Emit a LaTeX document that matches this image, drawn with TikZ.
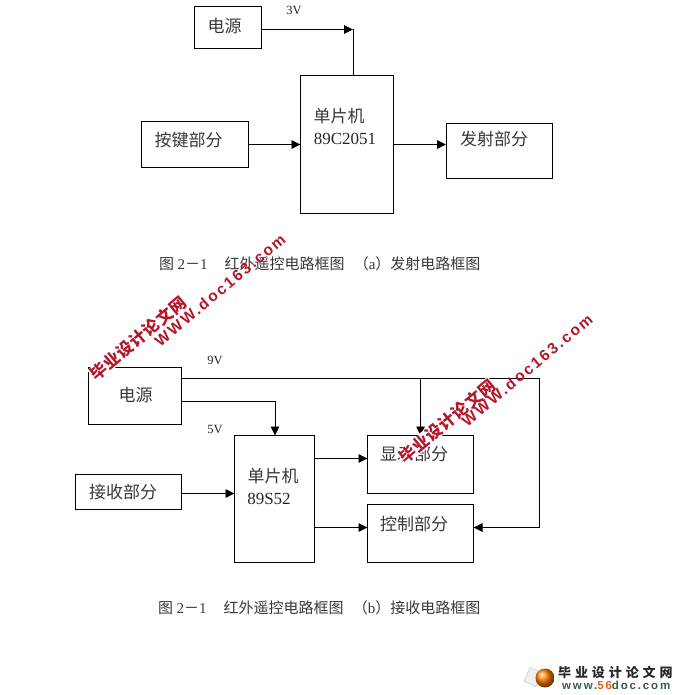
\documentclass[tikz,border=0pt]{standalone}
\usepackage{fontspec}
\setmainfont{Liberation Serif}
\newfontfamily\cjk{Noto Sans CJK SC}
\newfontfamily\wmcjk[LetterSpace=4]{Noto Sans CJK SC}
\newfontfamily\wmlat[LetterSpace=14]{Liberation Sans}
\newfontfamily\logolat[LetterSpace=16]{Liberation Sans}
\newfontfamily\logocjk[LetterSpace=30]{Noto Sans CJK SC}
\usetikzlibrary{arrows.meta,calc}
\definecolor{wmred}{RGB}{178,24,42}
\definecolor{logogreen}{RGB}{50,95,75}
\definecolor{logoorange}{RGB}{225,95,25}
\tikzset{
  box/.style={draw=black,line width=0.9pt,fill=white,anchor=north west,inner sep=0pt,outer sep=0pt},
  arr/.style={draw=black,line width=0.9pt,-{Triangle[length=9pt,width=8.5pt]}},
  wire/.style={draw=black,line width=0.9pt},
  cn/.style={inner sep=0pt,font=\fontsize{17}{17}\cjk,text=black!78},
  lat/.style={inner sep=0pt,font=\fontsize{17}{17}\selectfont,text=black!85},
  volt/.style={inner sep=0pt,font=\fontsize{12.5}{13}\selectfont,text=black!85},
  captxt/.style={inner sep=0pt,font=\fontsize{15}{15}\cjk,text=black!78},
  wma/.style={inner sep=0pt,rotate=40,fill=white,text=wmred,font=\fontsize{16.5}{16}\wmcjk\bfseries},
  wmb/.style={inner sep=0pt,rotate=40,text=wmred,font=\fontsize{15.5}{15}\wmlat\bfseries},
}
\begin{document}
\begin{tikzpicture}[x=1pt,y=-1pt]
\useasboundingbox (0,0) rectangle (687,695);
\fill[white] (0,0) rectangle (687,695);

% upper diagram
\node[box,minimum width=67pt,minimum height=42pt] (pa) at (194.5,6.5) {};
\node[box,minimum width=92.5pt,minimum height=137.5pt] (mcua) at (300.5,75.5) {};
\node[box,minimum width=107pt,minimum height=45.5pt] (keys) at (141,121.5) {};
\node[box,minimum width=106pt,minimum height=55pt] (tx) at (446,123) {};
\coordinate (pao) at (pa.east |- 0,29.5);
\coordinate (corner) at (353,29.5);
\coordinate (mcuat) at (353,75.5);
\coordinate (keyo) at (keys.east |- 0,144.5);
\coordinate (mcuai) at (mcua.west |- 0,144.5);
\coordinate (mcuao) at (mcua.east |- 0,144.5);
\coordinate (txi) at (tx.west |- 0,144.5);
\draw[wire] (mcuat) -- (corner);
\draw[arr] (pao) -- (corner);
\draw[arr] (keyo) -- (mcuai);
\draw[arr] (mcuao) -- (txi);

\node[cn] (la1) at (224.5,26) {电源};
\node[volt] (v3) at (294,10.5) {3V};
\node[cn] (la2) at (339,116) {单片机};
\node[lat] (la3) at (345,139) {89C2051};
\node[cn] (la4) at (188.5,140) {按键部分};
\node[cn] (la5) at (494,139) {发射部分};
\node[captxt,anchor=west] (c1) at (159,264) {图 {\fontspec{Liberation Serif}2}－{\fontspec{Liberation Serif}1}\hspace{1.13em}红外遥控电路框图\hspace{0.62em}（{\fontspec{Liberation Serif}a}）发射电路框图};

% lower diagram
\node[box,minimum width=93pt,minimum height=57pt] (pb) at (88,367.5) {};
\node[box,minimum width=80pt,minimum height=126.5pt] (mcub) at (234.5,435.5) {};
\node[box,minimum width=106pt,minimum height=34.5pt] (rx) at (75.5,474.5) {};
\node[box,minimum width=106pt,minimum height=57.5pt] (disp) at (367.5,435.5) {};
\node[box,minimum width=106pt,minimum height=57.5pt] (ctrl) at (367.5,504.5) {};
\coordinate (p9) at (pb.east |- 0,378.5);
\coordinate (c9) at (539.5,378.5);
\coordinate (c9b) at (539.5,527.5);
\coordinate (ctrlr) at (ctrl.east |- 0,527.5);
\coordinate (br) at (420.5,378.5);
\coordinate (dispt) at (420.5,435.5);
\coordinate (p5) at (pb.east |- 0,401);
\coordinate (c5) at (275,401);
\coordinate (mcubt) at (275,435.5);
\coordinate (rxo) at (rx.east |- 0,493.5);
\coordinate (mcubi) at (mcub.west |- 0,493.5);
\coordinate (mo1) at (mcub.east |- 0,458.5);
\coordinate (di) at (disp.west |- 0,458.5);
\coordinate (mo2) at (mcub.east |- 0,527.5);
\coordinate (ci) at (ctrl.west |- 0,527.5);
\draw[arr] (p9) -- (c9) -- (c9b) -- (ctrlr);
\draw[arr] (br) -- (dispt);
\draw[arr] (p5) -- (c5) -- (mcubt);
\draw[arr] (rxo) -- (mcubi);
\draw[arr] (mo1) -- (di);
\draw[arr] (mo2) -- (ci);

\node[cn] (lb1) at (135.5,395) {电源};
\node[volt] (v9) at (215,360) {9V};
\node[volt] (v5) at (215,429) {5V};
\node[cn] (lb2) at (273,476) {单片机};
\node[lat] (lb3) at (269,499) {89S52};
\node[cn] (lb4) at (123,492) {接收部分};
\node[cn] (lb5) at (414,454) {显示部分};
\node[cn] (lb6) at (414,524) {控制部分};
\node[captxt,anchor=west] (c2) at (158,608) {图 {\fontspec{Liberation Serif}2}－{\fontspec{Liberation Serif}1}\hspace{1.13em}红外遥控电路框图\hspace{0.62em}（{\fontspec{Liberation Serif}b}）接收电路框图};

% watermarks
\node[wma] (w1a) at (138,338) {毕业设计论文网};
\node[wmb] (w1b) at (220,290) {WWW.doc163.com};
\node[wma] (w2a) at (447,421) {毕业设计论文网};
\node[wmb] (w2b) at (527,370) {WWW.doc163.com};

% logo
\node[draw=black!25,fill=black!6,rotate=-25,minimum width=13pt,minimum height=15pt,inner sep=0pt] (paper) at (533,677) {};
\shade[ball color=orange] (545,678) circle (9.5pt);
\node[inner sep=0pt,anchor=west,font=\fontsize{13}{14}\logocjk\bfseries,text=black!85] (lg1) at (558,672) {毕业设计论文网};
\node[inner sep=0pt,anchor=west,font=\fontsize{11.5}{11}\logolat\bfseries,text=logogreen] (lg2) at (562,685) {www.\textcolor{logoorange}{56}doc.com};
\end{tikzpicture}
\end{document}
